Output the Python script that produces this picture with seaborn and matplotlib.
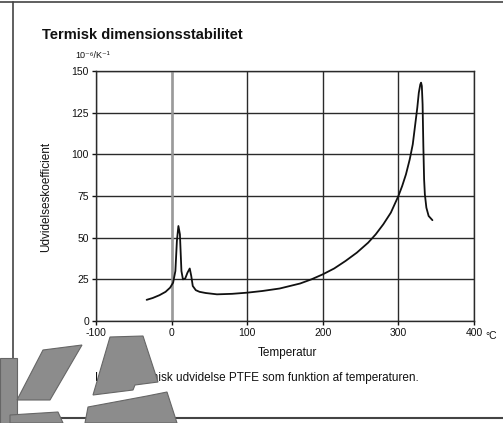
import numpy as np
import pandas as pd
import seaborn as sns
import matplotlib
matplotlib.use('Agg')
import matplotlib.pyplot as plt
from matplotlib.patches import Polygon
from matplotlib.lines import Line2D

# aflæste punkter fra kurven (temperatur i °C, koefficient i 10^-6/K)
temperatur = [-33, -25, -16, -8, -2, 2, 5, 7, 9, 11, 13, 15, 18, 21, 24, 26, 28,
              32, 37, 45, 60, 80, 100, 120, 143, 170, 185, 200, 215, 230, 245,
              260, 270, 280, 290, 300, 305, 310, 315, 319, 322, 325, 327, 329,
              330, 331, 332, 333, 334, 335, 337, 340, 345]
koefficient = [12.7, 13.8, 15.5, 17.5, 20, 23, 30, 48, 57, 52, 30, 25, 25.5, 29,
               31.5, 27, 21, 18.5, 17.5, 16.8, 16, 16.3, 17, 18, 19.5, 22.5, 25,
               28, 31.5, 36, 41, 47, 52, 58, 65, 75, 81, 88, 97, 106, 117, 128,
               137, 142, 143, 141, 130, 105, 85, 76, 68, 63, 60.5]

x_ticks = [-100, 0, 100, 200, 300, 400]
y_ticks = [0, 25, 50, 75, 100, 125, 150]

df = pd.DataFrame({'Temperatur': temperatur, 'Koefficient': koefficient})

sns.set_style('white')
plt.rcParams['font.family'] = ['Liberation Sans', 'DejaVu Sans']

W, H = 503, 423
fig = plt.figure(figsize=(W / 100, H / 100), dpi=100)
ax = fig.add_axes([96 / W, 1 - 321 / H, 378 / W, 250 / H])

sns.lineplot(data=df, x='Temperatur', y='Koefficient', ax=ax, color='#111111',
             lw=1.3, sort=False, estimator=None, zorder=3)

ax.set_xlim(-100, 400)
ax.set_ylim(0, 150)
ax.set_xticks(x_ticks)
ax.set_yticks(y_ticks)
ax.set_xticklabels([str(t) for t in x_ticks])
ax.grid(True, color='#2a2a2a', lw=1.0)
for s in ax.spines.values():
    s.set_visible(True)
    s.set_color('#2a2a2a')
    s.set_linewidth(1.0)
# lodret linje ved 0 ser grå ud i originalen
ax.axvline(0, color='#9a9a9a', lw=1.8, zorder=2)
ax.tick_params(axis='both', direction='out', length=3, width=1, labelsize=7.5,
               colors='#111111', pad=2, bottom=True, left=True)
ax.set_xlabel('')
ax.set_ylabel('')

def px(x, y):
    return (x / W, 1 - y / H)

fig.text(*px(42, 35), 'Termisk dimensionsstabilitet', fontsize=10.5, fontweight='bold',
         ha='left', va='center', color='#111111')
fig.text(*px(93, 55), '10⁻⁶/K⁻¹', fontsize=6.5, ha='center', va='center', color='#111111')
fig.text(*px(46, 197), 'Udvidelseskoefficient', fontsize=8.5, rotation=90,
         ha='center', va='center', color='#111111')
fig.text(*px(491, 336), '°C', fontsize=7.5, ha='center', va='center', color='#111111')
fig.text(*px(287, 353), 'Temperatur', fontsize=8.5, ha='center', va='center', color='#111111')
fig.text(*px(95, 378), 'Lineær termisk udvidelse PTFE som funktion af temperaturen.',
         fontsize=8.5, ha='left', va='center', color='#111111')

# ramme
fig.add_artist(Line2D([0, 1], [1 - 2 / H, 1 - 2 / H], color='#444444', lw=1.2))
fig.add_artist(Line2D([13 / W, 13 / W], [0, 1 - 2 / H], color='#444444', lw=1.2))
fig.add_artist(Line2D([13 / W, 1], [1 - 418 / H, 1 - 418 / H], color='#444444', lw=1.5))

# KA-logo vandmærke
logo = [
    [(0, 358), (17, 358), (17, 423), (0, 423)],
    [(17, 400), (43, 350), (82, 345), (50, 400)],
    [(10, 415), (58, 412), (63, 423), (10, 423)],
    [(110, 337), (143, 336), (158, 382), (135, 385), (133, 390), (93, 395)],
    [(88, 407), (147, 396), (167, 392), (177, 423), (85, 423)],
]
for poly in logo:
    fig.add_artist(Polygon([px(x, y) for x, y in poly], closed=True,
                           facecolor='#8c8c8c', edgecolor='#666666', lw=0.8,
                           transform=fig.transFigure, zorder=5))

fig.savefig('out.png', dpi=100)
